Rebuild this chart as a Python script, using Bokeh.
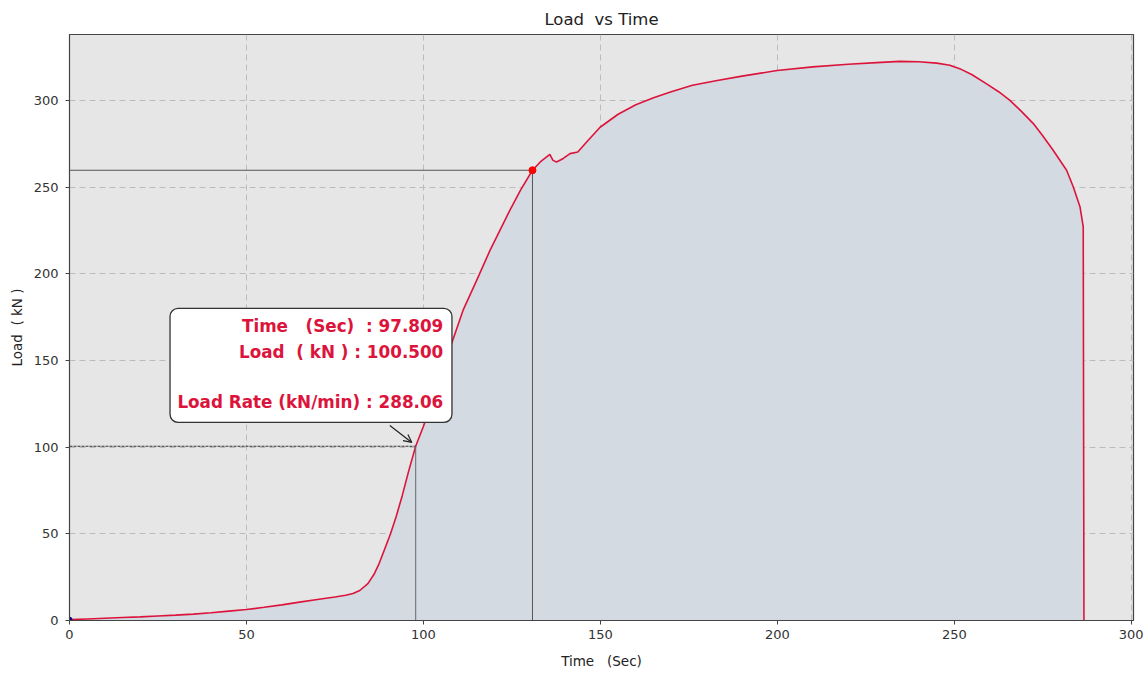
from bokeh.plotting import figure
from bokeh.models import (ColumnDataSource, BoxAnnotation, Label, Arrow, OpenHead,
                          Range1d, FixedTicker)
from bokeh.embed import file_html
from bokeh.resources import INLINE

# ---- data ----
time_s = [0, 5, 10, 15, 20, 25, 30, 35, 40, 45, 50, 55, 60, 65, 70, 75, 78, 80.1, 82,
          84.3, 86, 87.5, 89, 90.7, 92.3, 94, 95.8, 97.8, 100, 104, 108, 111.2, 115,
          118.8, 121.6, 124.4, 127.5, 130.8, 133, 135.7, 136.6, 137.6, 139.5, 141.4,
          143.6, 146.1, 149.9, 155, 160, 165, 170, 176, 183, 190, 199.9, 210, 220, 228,
          234.6, 240, 245, 248.7, 251.5, 255, 259.1, 262.5, 265.7, 269, 272.3, 275,
          277.9, 281.7, 283.6, 285.5, 286.4, 286.6]
load_kn = [0.5, 0.9, 1.3, 1.7, 2.1, 2.6, 3.1, 3.7, 4.5, 5.4, 6.3, 7.6, 9.0, 10.6, 12.1,
           13.6, 14.6, 15.6, 17.3, 21.3, 26.5, 33, 41, 50, 60, 72, 86, 100.5, 112, 136,
           160, 179, 196, 213.5, 225, 236.6, 248.5, 259.7, 264.5, 268.9, 265.4, 264.5,
           266.5, 269.3, 270.2, 276, 284.5, 292, 297.5, 301.5, 305, 308.7, 311.5, 314,
           317.2, 319.3, 320.8, 321.8, 322.5, 322.3, 321.5, 320.3, 318.3, 314.8, 309.5,
           305, 300, 293.5, 286.6, 279.5, 271.2, 259.7, 250, 238.5, 227, 0]
zeros = [0] * len(time_s)

ticks = [0, 50, 100, 150, 200, 250, 300]

sel_time, sel_load = 97.809, 100.5          # annotated point
peak_time, peak_load = 130.8, 259.7         # red marker point
ann_lines = ["Time   (Sec)  : 97.809", "Load  ( kN ) : 100.500",
             "Load Rate (kN/min) : 288.06"]
ann_y = [169.6, 154.6, 125.8]


def keep_spaces(s):
    # keep runs of spaces visible in SVG text
    return s.replace("  ", "\u00a0\u00a0")


src = ColumnDataSource(dict(t=time_s, l=load_kn, z=zeros))

p = figure(frame_width=1064, frame_height=586, output_backend="svg",
           toolbar_location=None, x_range=Range1d(0, 300.6), y_range=Range1d(0, 338),
           title=keep_spaces("Load  vs Time"), min_border_left=69, min_border_right=10,
           min_border_top=34, min_border_bottom=52)

p.background_fill_color = "#e6e6e6"
p.border_fill_color = "white"
p.outline_line_color = "#444444"
p.outline_line_width = 1.2

p.title.align = "center"
p.title.text_font = "DejaVu Sans"
p.title.text_font_size = "16.5px"
p.title.text_font_style = "normal"
p.title.text_color = "#222222"
p.title.standoff = 12

for ax in (p.xaxis[0], p.yaxis[0]):
    ax.ticker = FixedTicker(ticks=ticks)
    ax.minor_tick_line_color = None
    ax.major_tick_in = 0
    ax.major_tick_out = 4
    ax.major_tick_line_color = "#444444"
    ax.axis_line_color = "#444444"
    ax.major_label_text_font = "DejaVu Sans"
    ax.major_label_text_font_size = "13px"
    ax.major_label_text_color = "#333333"
    ax.axis_label_text_font = "DejaVu Sans"
    ax.axis_label_text_font_size = "13.5px"
    ax.axis_label_text_font_style = "normal"
    ax.axis_label_text_color = "#222222"

p.xaxis.axis_label = keep_spaces("Time   (Sec)")
p.yaxis.axis_label = keep_spaces("Load  ( kN )")
p.xaxis.axis_label_standoff = 11
p.xaxis.major_label_standoff = 5
p.yaxis.axis_label_standoff = 6
p.yaxis.major_label_standoff = 7

p.grid.grid_line_color = "#bcbcbc"
p.grid.grid_line_dash = "6 4"
p.grid.grid_line_width = 1

# filled area + curve
p.varea(x="t", y1="z", y2="l", source=src, fill_color="#d3dae1", fill_alpha=1)
p.line(x="t", y="l", source=src, line_color="#dc143c", line_width=1.6)

# reference lines
p.line([0, peak_time], [peak_load, peak_load], line_color="#555555", line_width=1)
p.line([peak_time, peak_time], [0, peak_load], line_color="#555555", line_width=1)
p.line([0, sel_time], [sel_load, sel_load], line_color="#333333", line_width=1.1,
       line_dash="3 1")
p.line([sel_time, sel_time], [0, sel_load], line_color="#666666", line_width=1)

p.scatter([peak_time], [peak_load], size=7, color="red")
p.scatter([0], [0.5], size=5, color="navy")

# annotation box
box = BoxAnnotation(left=28.4, right=108.05, top=180, bottom=114.3,
                    fill_color="white", fill_alpha=1, line_color="#333333",
                    line_alpha=1, line_width=1.3, border_radius=8)
p.add_layout(box)
for txt, yy in zip(ann_lines, ann_y):
    p.add_layout(Label(x=105.6, y=yy, text=keep_spaces(txt), text_align="right",
                       text_baseline="middle", text_font="DejaVu Sans",
                       text_font_size="16.8px", text_font_style="bold",
                       text_color="#dc143c"))

p.add_layout(Arrow(x_start=90.5, y_start=112.5, x_end=96.7, y_end=102.7,
                   line_color="#222222", line_width=1.2,
                   end=OpenHead(size=8, line_color="#222222", line_width=1.2)))

open("out.html", "w").write(file_html(p, INLINE))
